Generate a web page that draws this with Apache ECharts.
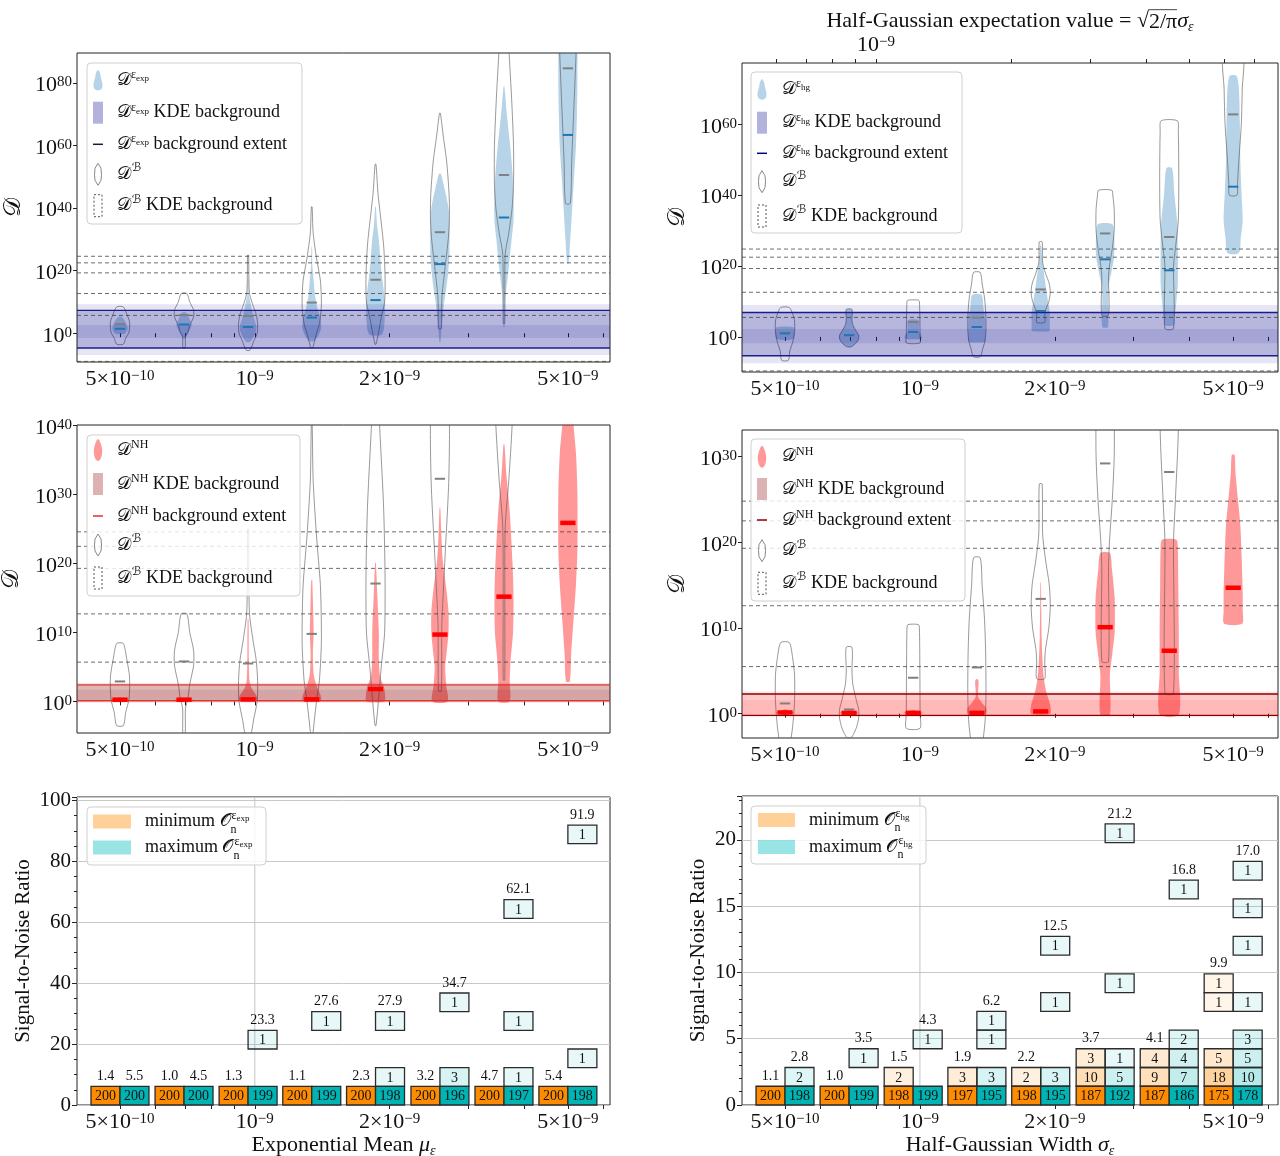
<!DOCTYPE html>
<html>
<head>
<meta charset="utf-8">
<script src="https://cdn.jsdelivr.net/npm/echarts@6.0.0/dist/echarts.min.js"></script>
<style>
html,body{margin:0;padding:0;background:#fff;}
#chart{width:1280px;height:1156px;}
</style>
</head>
<body>
<div id="chart"></div>
<script>
// ================= DATA =================
// x positions (exponential mean mu / half-gaussian width sigma)
const xVals = [5.00e-10, 6.95e-10, 9.66e-10, 1.34e-9, 1.86e-9, 2.59e-9, 3.60e-9, 5.00e-9];
const xLabelVals = [5e-10, 1e-9, 2e-9, 5e-9];
const xLabelMant = ['5×10', '10', '2×10', '5×10'];
const xLabelExp = ['−10', '−9', '−9', '−9'];
const xTickVals = [5e-10, 6e-10, 7e-10, 8e-10, 9e-10, 1e-9, 2e-9, 3e-9, 4e-9, 5e-9, 6e-9];
const topTickVals = [6e-10, 7e-10, 8e-10, 9e-10, 1e-9, 2e-9, 3e-9, 4e-9, 5e-9, 6e-9, 7e-9];
const topLabelVals = [1e-9];
// y tick exponents (log10 D)
const yExpTicks = [0, 20, 40, 60, 80];
const yHgTicks = [0, 20, 40, 60];
const yNHLTicks = [0, 10, 20, 30, 40];
const yNHRTicks = [0, 10, 20, 30];

// violin profiles: [log10 D, relative half width]
const profBLeft = [
  [[8.4,0.35],[6.2,0.7],[3.6,1.0],[0.4,0.95],[-1.6,0.6],[-3.5,0.35]],
  [[12.7,0.3],[10,0.6],[7.4,1.0],[5.2,1.0],[2.5,0.6],[0.4,0.4],[-1,0.15],[-4.7,0.12]],
  [[25,0.05],[18,0.08],[12.7,0.15],[9,0.5],[6,0.85],[3,1.0],[0,0.95],[-2.5,0.6],[-5.4,0.2]],
  [[40.4,0.04],[32,0.15],[24,0.5],[17,0.9],[12,1.0],[8,1.0],[3,0.8],[0,0.5],[-3,0.25],[-4.7,0.1]],
  [[54,0.05],[45,0.25],[38,0.5],[28,0.85],[18,1.0],[10,0.95],[5,0.6],[0,0.3],[-3.5,0.05]],
  [[70.3,0.05],[63,0.35],[55,0.7],[45,0.95],[38,1.0],[31,0.9],[20,0.5],[11,0.2],[1.5,0.15]],
  [[96,0.45],[89,0.55],[75,0.8],[60,1.0],[48,1.0],[40,0.85],[32,0.5],[25,0.12],[3.1,0.08]],
  [[96,0.9],[89,0.85],[70,0.6],[55,0.4],[41.5,0.25]]
];
const medBLeft = [2.9, 5.8, 5.5, 9.8, 17.1, 32.3, 50.6, 84.7];

const profExp = [
  [[5.2,0.2],[3.5,0.6],[1.5,0.8],[0,0.55],[-0.3,0.2]],
  [[6.6,0.2],[5,0.5],[2.8,0.8],[1,0.6],[-1.7,0.1]],
  [[17.5,0.03],[12,0.08],[10.6,0.2],[6,0.5],[2.5,0.85],[1,0.85],[-1,0.6],[-2.8,0.2]],
  [[27.6,0.03],[22,0.06],[19,0.15],[12,0.35],[8,0.6],[5,0.9],[2,1.0],[0,0.8],[-2.5,0.3]],
  [[40.4,0.04],[35,0.15],[29.8,0.35],[24,0.5],[19,0.65],[14,0.85],[9,1.0],[4,0.95],[1,0.85],[-0.6,0.6]],
  [[51,0.1],[46,0.5],[40,0.9],[35,1.0],[25,1.0],[19,0.85],[14,0.65],[10,0.45],[5,0.25],[0,0.12],[-2.8,0.06]],
  [[78.8,0.05],[70,0.3],[60,0.65],[51,0.9],[45,1.0],[36,1.0],[30,0.8],[24,0.6],[18,0.4],[13,0.2],[7,0.08],[2,0.05]],
  [[96,1.0],[89,1.0],[80,1.0],[70,0.95],[60,0.85],[50,0.65],[40,0.45],[30,0.25],[22.3,0.08]]
];
const medExp = [1.4, 2.8, 2.0, 5.0, 10.6, 22.1, 37.0, 63.4];

const profNHLeft = [
  [[0.6,0.05],[0.4,0.4],[0.25,1.0],[0.1,0.4],[-0.05,0.05]],
  [[0.55,0.05],[0.4,0.45],[0.25,1.0],[0.1,0.45],[-0.05,0.05]],
  [[11.9,0.05],[6,0.08],[3,0.15],[2,0.35],[1,0.8],[0.4,1.0],[0.05,0.9]],
  [[17.6,0.05],[13,0.15],[10,0.2],[7,0.12],[4,0.2],[2.5,0.45],[1,0.9],[0.3,1.0],[0,0.9]],
  [[20.1,0.04],[15,0.2],[10,0.35],[6,0.35],[3.5,0.5],[2,0.9],[1,1.0],[0,0.95]],
  [[28.1,0.04],[24,0.15],[20.4,0.3],[16,0.7],[13,0.9],[10,0.9],[7,0.7],[5,0.55],[2.5,0.65],[0,0.8]],
  [[37.3,0.05],[33,0.25],[27.6,0.6],[20,0.9],[15,1.0],[10,0.95],[6,0.7],[3,0.6],[0,0.6]],
  [[45,0.4],[40,0.6],[36,0.85],[30,1.0],[22,1.0],[17,0.85],[12,0.6],[7,0.35],[2.9,0.2]]
];
const medNHLeft = [0.25, 0.25, 0.3, 0.3, 1.8, 9.7, 15.2, 25.9];

const profBRight = [
  [[8.3,0.45],[6.5,0.8],[4.5,1.0],[1.5,1.0],[-1.5,0.8],[-4,0.5],[-6.6,0.35]],
  [[7.75,0.3],[5,0.3],[3.5,0.38],[1.6,0.75],[0.5,1.0],[-0.5,1.0],[-1.5,0.8],[-2.3,0.5],[-2.8,0.2]],
  [[10.4,0.55],[10.0,0.65],[5,0.7],[0,0.72],[-1.7,0.72]],
  [[18.2,0.35],[15,0.55],[11,0.8],[7,0.92],[2,0.95],[-1,0.85],[-3.5,0.6],[-5.6,0.35]],
  [[26.8,0.15],[21,0.2],[18,0.5],[15,0.9],[12.5,1.0],[10,0.85],[7.5,0.5],[6,0.42],[4.1,0.42]],
  [[41.4,0.7],[40,0.8],[36,0.95],[30,0.95],[25,0.75],[20,0.45],[17,0.35],[6.1,0.35]],
  [[61,0.85],[58,0.95],[45,1.0],[33,0.95],[25,0.65],[20,0.45],[2.4,0.45]],
  [[80,1.0],[70,0.95],[60,0.85],[50,0.6],[43,0.45],[40,0.4]]
];
const medBRight = [1.2, 0.5, 4.2, 5.4, 13.4, 29.2, 28.2, 62.8];

const profHg = [
  [[2.9,0.5],[2.6,0.95],[-0.4,0.95],[-0.8,0.5]],
  [[7.75,0.3],[5,0.3],[3.5,0.38],[1.6,0.75],[0.5,1.0],[-0.5,1.0],[-1.5,0.8],[-2.3,0.5],[-2.8,0.2]],
  [[4.7,0.55],[1.5,0.6],[0.5,0.85],[-0.5,0.85]],
  [[11.8,0.5],[8,0.7],[5,0.85],[2,0.9],[0,0.9],[-1.4,0.85]],
  [[25.9,0.05],[22,0.15],[18.8,0.3],[14,0.55],[9.4,0.8],[7,0.95],[3,0.95],[1.7,0.9]],
  [[31.8,0.75],[28,0.95],[23,0.95],[18.8,0.7],[14.1,0.35],[10,0.3],[2.8,0.3]],
  [[47.6,0.3],[40,0.55],[32,0.85],[25,0.9],[15,0.9],[10,0.75],[5,0.55],[3.3,0.5]],
  [[73.7,0.35],[70,0.6],[60,0.7],[50,0.75],[42,0.85],[33,1.0],[28,0.8],[23.7,0.6]]
];
const medHg = [1.0, 0.5, 1.4, 2.8, 7.3, 21.9, 18.8, 42.4];

const profNHRight = [
  [[0.5,0.1],[0.3,0.5],[0.15,1.0],[0,0.5],[-0.15,0.1]],
  [[0.45,0.1],[0.25,0.5],[0.1,1.0],[-0.05,0.5],[-0.2,0.1]],
  [[0.45,0.1],[0.25,0.5],[0.1,1.0],[-0.05,0.5],[-0.2,0.1]],
  [[4.05,0.05],[3.8,0.18],[3,0.15],[2,0.12],[1.3,0.5],[0.6,1.0],[0,0.95]],
  [[15.3,0.03],[12,0.06],[9,0.1],[6,0.2],[4,0.35],[2.5,0.6],[1,1.0],[0,1.0]],
  [[18.75,0.5],[17,0.7],[13.5,1.0],[9.5,1.0],[7,0.75],[4.5,0.5],[-0.1,0.5]],
  [[20.3,0.75],[19.5,0.9],[15,0.95],[10,1.0],[5,1.0],[-0.1,1.0]],
  [[30.2,0.15],[28,0.25],[25,0.5],[22,0.75],[18,0.9],[14,1.0],[12,1.0],[10.5,0.95]]
];
const medNHRight = [0.15, 0.1, 0.1, 0.1, 0.27, 10.1, 7.35, 14.7];

// KDE background bands [lo, hi] (outer, extent, inner) in log10 D
const bandExp = [[-7.0, 9.3], [-4.7, 7.3], [-1.5, 2.6]];
const bandHg = [[-7.4, 9.0], [-5.3, 6.9], [-1.8, 2.2]];
const bandNHLeft = [[-0.2, 2.7], [0.1, 2.4], [0.25, 1.7]];
const bandNHRight = [[-0.4, 2.6], [-0.2, 2.3], [-0.1, 1.6]];
// D^B KDE background (dashed lines)
const dashExp = [24.6, 22.5, 19.3, 12.7, 5.7, -9.0];
const dashHg = [24.8, 22.5, 19.3, 12.6, 5.5, -9.6];

// Signal-to-noise boxes: [bin index, count]
const binsExpMin = [[[0,200]],[[0,200]],[[0,200]],[[0,200]],[[0,200]],[[0,200]],[[0,200]],[[0,200]]];
const binsExpMax = [[[0,200]],[[0,200]],[[0,199],[3,1]],[[0,199],[4,1]],[[0,198],[1,1],[4,1]],
  [[0,196],[1,3],[5,1]],[[0,197],[1,1],[4,1],[10,1]],[[0,198],[2,1],[14,1]]];
const topExpMin = [1.4, 1.0, 1.3, 1.1, 2.3, 3.2, 4.7, 5.4];
const topExpMax = [5.5, 4.5, 23.3, 27.6, 27.9, 34.7, 62.1, 91.9];
const binsHgMin = [[[0,200]],[[0,200]],[[0,198],[1,2]],[[0,197],[1,3]],[[0,198],[1,2]],
  [[0,187],[1,10],[2,3]],[[0,187],[1,9],[2,4]],[[0,175],[1,18],[2,5],[5,1],[6,1]]];
const binsHgMax = [[[0,198],[1,2]],[[0,199],[2,1]],[[0,199],[3,1]],[[0,195],[1,3],[3,1],[4,1]],
  [[0,195],[1,3],[5,1],[8,1]],[[0,192],[1,5],[2,1],[6,1],[14,1]],[[0,186],[1,7],[2,4],[3,2],[11,1]],
  [[0,178],[1,10],[2,5],[3,3],[5,1],[8,1],[10,1],[12,1]]];
const topHgMin = [1.1, 1.0, 1.5, 1.9, 2.2, 3.7, 4.1, 9.9];
const topHgMax = [2.8, 3.5, 4.3, 6.2, 12.5, 21.2, 16.8, 17.0];
const NBINS = 15;

// ================= STYLE / HELPERS =================
const SERIF = "'Liberation Serif','DejaVu Serif',serif";
const MATH = "'DejaVu Sans','DejaVu Serif','Noto Sans',sans-serif";
const INK = '#111';
const XMIN = -9.397, XMAX_L = -8.207, XMAX_R = -8.201;
const HW = 0.0213, MED_HALF = 0.0115, MED_HALF_NH = 0.017, BOX_W = 0.0647;
const hgFactor = Math.sqrt(2 / Math.PI);
const lx = v => Math.log10(v);

const tickRich = {
  m: {fontFamily: SERIF, fontSize: 22, color: INK, lineHeight: 16, padding: [5, 0, 0, 0]},
  e: {fontFamily: SERIF, fontSize: 15, color: INK, lineHeight: 14, verticalAlign: 'top'}
};
function fmtX(v) {
  const i = xLabelVals.findIndex(t => Math.abs(lx(t) - v) < 1e-6);
  return i < 0 ? '' : '{m|' + xLabelMant[i] + '}{e|' + xLabelExp[i] + '}';
}
const ovCanvas = document.createElement('canvas');
ovCanvas.width = 20; ovCanvas.height = 24;
(function(){const c = ovCanvas.getContext('2d'); c.fillStyle = '#111'; c.fillRect(0, 0, 20, 1.2);})();

const legRich = {
  t: {fontFamily: SERIF, fontSize: 18, color: INK, lineHeight: 24},
  D: {fontFamily: MATH, fontSize: 18, color: INK, lineHeight: 24},
  sp: {fontFamily: SERIF, fontSize: 12, color: INK, lineHeight: 12, verticalAlign: 'top', padding: [1, 0, 0, 0]},
  ss: {fontFamily: SERIF, fontSize: 9, color: INK, lineHeight: 9, verticalAlign: 'top', padding: [6, 0, 0, 0]},
  sB: {fontFamily: MATH, fontSize: 12, color: INK, lineHeight: 12, verticalAlign: 'top', padding: [0, 0, 0, 1]}
};
const legRich2 = {
  t: {fontFamily: SERIF, fontSize: 18, color: INK, lineHeight: 28},
  O: {fontFamily: MATH, fontSize: 18, color: INK, lineHeight: 28},
  nz: {fontFamily: SERIF, fontSize: 12, color: INK, lineHeight: 12, verticalAlign: 'bottom', width: 0},
  sp: {fontFamily: SERIF, fontSize: 12, color: INK, lineHeight: 12, verticalAlign: 'top', padding: [2, 0, 0, 1]},
  ss: {fontFamily: SERIF, fontSize: 9, color: INK, lineHeight: 9, verticalAlign: 'top', padding: [7, 0, 0, 0]}
};

function bodies(g, profiles, fill, stroke) {
  return {
    type: 'custom', xAxisIndex: g, yAxisIndex: g, clip: true, silent: true,
    data: xVals.map((v, i) => [lx(v), i]),
    renderItem: function (params, api) {
      const xc = api.value(0), prof = profiles[api.value(1)];
      const pts = [];
      for (let k = 0; k < prof.length; k++) pts.push(api.coord([xc + prof[k][1] * HW, prof[k][0]]));
      for (let k = prof.length - 1; k >= 0; k--) pts.push(api.coord([xc - prof[k][1] * HW, prof[k][0]]));
      return {type: 'polygon', shape: {points: pts, smooth: 0.25},
        style: {fill: fill, stroke: stroke, lineWidth: 1}};
    }
  };
}
function band(g, layers, rgb, alphas) {
  return {
    type: 'custom', xAxisIndex: g, yAxisIndex: g, clip: true, silent: true,
    data: layers.map((b, k) => [b[0], b[1], k]),
    renderItem: function (params, api) {
      const cs = params.coordSys, x0 = lx(xVals[0]);
      const lo = api.coord([x0, api.value(0)]), hi = api.coord([x0, api.value(1)]);
      return {type: 'rect', shape: {x: cs.x, y: hi[1], width: cs.width, height: lo[1] - hi[1]},
        style: {fill: 'rgba(' + rgb + ',' + alphas[api.value(2)] + ')'}};
    }
  };
}
function hlines(g, vals, stroke, lw, dash) {
  return {
    type: 'custom', xAxisIndex: g, yAxisIndex: g, clip: true, silent: true,
    data: vals.map(v => [v]),
    renderItem: function (params, api) {
      const cs = params.coordSys, p = api.coord([lx(xVals[0]), api.value(0)]);
      return {type: 'line', shape: {x1: cs.x, y1: p[1], x2: cs.x + cs.width, y2: p[1]},
        style: {stroke: stroke, lineWidth: lw, lineDash: dash}};
    }
  };
}
function medians(g, meds, stroke, lw, half) {
  return {
    type: 'custom', xAxisIndex: g, yAxisIndex: g, clip: true, silent: true,
    data: xVals.map((v, i) => [lx(v), meds[i]]),
    renderItem: function (params, api) {
      const xc = api.value(0), m = api.value(1);
      const a = api.coord([xc - half, m]), b = api.coord([xc + half, m]);
      return {type: 'line', shape: {x1: a[0], y1: a[1], x2: b[0], y2: b[1]},
        style: {stroke: stroke, lineWidth: lw}};
    }
  };
}
function vline(g, v) {
  return {
    type: 'custom', xAxisIndex: g, yAxisIndex: g, silent: true,
    data: [[lx(v)]],
    renderItem: function (params, api) {
      const cs = params.coordSys, p = api.coord([api.value(0), 0]);
      return {type: 'line', shape: {x1: p[0], y1: cs.y, x2: p[0], y2: cs.y + cs.height},
        style: {stroke: '#c4c4c4', lineWidth: 1}};
    }
  };
}
function boxes(g, minBins, maxBins, minTop, maxTop) {
  const binW = Math.max.apply(null, minTop.concat(maxTop)) / NBINS;
  const data = [];
  xVals.forEach((v, i) => {
    [[minBins[i], minTop[i]], [maxBins[i], maxTop[i]]].forEach((pair, col) => {
      const topBin = Math.max.apply(null, pair[0].map(b => b[0]));
      pair[0].forEach(b => data.push([lx(v), col, b[0], b[1], b[0] === topBin ? pair[1] : -1]));
    });
  });
  return {
    type: 'custom', xAxisIndex: g, yAxisIndex: g, silent: true, data: data,
    renderItem: function (params, api) {
      const xc = api.value(0), col = api.value(1), bin = api.value(2), cnt = api.value(3), top = api.value(4);
      const xa = col === 0 ? xc - BOX_W : xc, xb = col === 0 ? xc : xc + BOX_W;
      const p0 = api.coord([xa, (bin + 1) * binW]), p1 = api.coord([xb, bin * binW]);
      const rgb = col === 0 ? '255,140,0' : '0,180,180';
      const a = Math.min(1, 0.09 * Math.sqrt(cnt));
      const cx = (p0[0] + p1[0]) / 2, cy = (p0[1] + p1[1]) / 2;
      const ch = [
        {type: 'rect', shape: {x: p0[0], y: p0[1], width: p1[0] - p0[0], height: p1[1] - p0[1]},
          style: {fill: 'rgba(' + rgb + ',' + a + ')', stroke: '#2b2b2b', lineWidth: 1.3}},
        {type: 'text', style: {text: String(cnt), x: cx, y: cy + 1, align: 'center', verticalAlign: 'middle',
          fontFamily: SERIF, fontSize: 14, fill: INK}}
      ];
      if (top >= 0) ch.push({type: 'text', style: {text: top.toFixed(1), x: cx, y: p0[1] - 10,
        align: 'center', verticalAlign: 'middle', fontFamily: SERIF, fontSize: 14, fill: INK}});
      return {type: 'group', children: ch};
    }
  };
}

function xAxisDef(g, max, extra) {
  return Object.assign({
    gridIndex: g, type: 'value', min: XMIN, max: max, nameMoveOverlap: false,
    axisLine: {show: false}, splitLine: {show: false},
    axisTick: {show: true, customValues: xTickVals.map(lx), length: 4, lineStyle: {color: '#222', width: 1}},
    axisLabel: {show: true, customValues: xLabelVals.map(lx), formatter: fmtX, rich: tickRich, margin: 7, color: INK}
  }, extra || {});
}
function yAxisViolin(g, min, max, ticks, gap) {
  return {
    gridIndex: g, type: 'value', min: min, max: max, nameMoveOverlap: false,
    axisLine: {show: false}, splitLine: {show: false},
    axisTick: {show: true, customValues: ticks, length: 4, lineStyle: {color: '#222', width: 1}},
    axisLabel: {show: true, customValues: ticks, formatter: v => '{m|10}{e|' + v + '}', rich: tickRich, margin: 5, color: INK},
    name: '{D|𝒟}', nameLocation: 'middle', nameGap: gap,
    nameTextStyle: {rich: {D: {fontFamily: MATH, fontSize: 24, color: INK}}}
  };
}
function yAxisSNR(g, max, interval, minorSplit, gap) {
  return {
    gridIndex: g, type: 'value', min: 0, max: max, interval: interval, nameMoveOverlap: false,
    axisLine: {show: false},
    splitLine: {show: true, lineStyle: {color: '#c8c8c8', width: 1}},
    axisTick: {show: true, length: 5, lineStyle: {color: '#222'}},
    minorTick: {show: true, splitNumber: minorSplit, length: 3, lineStyle: {color: '#222'}},
    axisLabel: {fontFamily: SERIF, fontSize: 21, color: INK, margin: 6, showMaxLabel: false},
    name: 'Signal-to-Noise Ratio', nameLocation: 'middle', nameGap: gap,
    nameTextStyle: {fontFamily: SERIF, fontSize: 21, color: INK}
  };
}
const xNameRich = {
  t: {fontFamily: SERIF, fontSize: 22, color: INK, lineHeight: 26},
  mi: {fontFamily: SERIF, fontSize: 22, fontStyle: 'italic', color: INK, lineHeight: 26},
  sb: {fontFamily: SERIF, fontSize: 14, fontStyle: 'italic', color: INK, lineHeight: 14, verticalAlign: 'bottom'},
  ov: {fontFamily: SERIF, fontSize: 22, color: INK, lineHeight: 22, padding: [3, 0, 0, 0], backgroundColor: {image: ovCanvas}}
};

// ---------- legends (graphic) ----------
function icon(kind, cx, cy, color) {
  const Z = 101;
  if (kind === 'vfill') return {type: 'polygon', z: Z, shape: {smooth: 0.4, points:
    [[cx, cy - 10], [cx + 2, cy - 7], [cx + 3, cy - 2], [cx + 4.5, cy + 4], [cx + 4, cy + 8], [cx + 2, cy + 10],
     [cx - 2, cy + 10], [cx - 4, cy + 8], [cx - 4.5, cy + 4], [cx - 3, cy - 2], [cx - 2, cy - 7]]}, style: {fill: color}};
  if (kind === 'drop') return {type: 'polygon', z: Z, shape: {smooth: 0.4, points:
    [[cx, cy - 11], [cx + 2.5, cy - 7], [cx + 4, cy - 1], [cx + 4, cy + 4], [cx + 2.5, cy + 9], [cx, cy + 11],
     [cx - 2.5, cy + 9], [cx - 4, cy + 4], [cx - 4, cy - 1], [cx - 2.5, cy - 7]]}, style: {fill: color}};
  if (kind === 'rect') return {type: 'rect', z: Z, shape: {x: cx - 5, y: cy - 11, width: 10, height: 22}, style: {fill: color}};
  if (kind === 'line') return {type: 'line', z: Z, shape: {x1: cx - 5, y1: cy, x2: cx + 5, y2: cy}, style: {stroke: color, lineWidth: 1.5}};
  if (kind === 'vout') return {type: 'polygon', z: Z, shape: {points:
    [[cx, cy - 11], [cx + 3, cy - 6], [cx + 3.5, cy], [cx + 3, cy + 6], [cx, cy + 11], [cx - 3, cy + 6], [cx - 3.5, cy], [cx - 3, cy - 6]]},
    style: {fill: 'none', stroke: color, lineWidth: 1}};
  return {type: 'rect', z: Z, shape: {x: cx - 4, y: cy - 11, width: 8, height: 22},
    style: {fill: 'none', stroke: color, lineWidth: 1, lineDash: [2, 2]}};
}
function legend(box, ix, tx, ys, items, rich) {
  const ch = [{type: 'rect', z: 100, shape: {x: box[0], y: box[1], width: box[2] - box[0], height: box[3] - box[1], r: 4},
    style: {fill: 'rgba(255,255,255,0.82)', stroke: '#cfcfcf', lineWidth: 1}}];
  items.forEach((it, k) => {
    if (it.icon === 'patch') ch.push({type: 'rect', z: 101, shape: {x: ix[0], y: ys[k] - 7, width: ix[1] - ix[0], height: 14}, style: {fill: it.color}});
    else ch.push(icon(it.icon, ix, ys[k], it.color));
    ch.push({type: 'text', z: 101, style: {text: it.text, rich: rich, x: tx, y: ys[k], align: 'left', verticalAlign: 'middle',
      fontFamily: SERIF, fontSize: 18, fill: INK}});
  });
  return {type: 'group', children: ch};
}
function violinLegendItems(sup, fillIcon, fillColor, rectColor, lineColor) {
  return [
    {icon: fillIcon, color: fillColor, text: '{D|𝒟}' + sup},
    {icon: 'rect', color: rectColor, text: '{D|𝒟}' + sup + '{t| KDE background}'},
    {icon: 'line', color: lineColor, text: '{D|𝒟}' + sup + '{t| background extent}'},
    {icon: 'vout', color: '#888', text: '{D|𝒟}{sB|ℬ}'},
    {icon: 'dash', color: '#555', text: '{D|𝒟}{sB|ℬ}{t| KDE background}'}
  ];
}

const FILL_BLUE = 'rgba(31,119,180,0.32)';
const FILL_RED = 'rgba(255,0,0,0.4)';
const OUTLINE = 'rgba(90,90,90,0.62)';
const DASH = 'rgba(60,60,60,0.75)';

// ================= OPTION =================
const option = {
  animation: false,
  backgroundColor: '#fff',
  textStyle: {fontFamily: SERIF},
  grid: [
    {left: 77, top: 53, width: 533, height: 309},
    {left: 742, top: 63, width: 536, height: 309},
    {left: 77, top: 425, width: 533, height: 308},
    {left: 742, top: 430, width: 536, height: 308},
    {left: 77, top: 797, width: 533, height: 308},
    {left: 742, top: 796, width: 536, height: 309}
  ].map(g => Object.assign(g, {show: true, borderColor: '#222', borderWidth: 1, backgroundColor: 'transparent',
    containLabel: false, outerBoundsMode: 'none'})),
  xAxis: [
    xAxisDef(0, XMAX_L),
    xAxisDef(1, XMAX_R),
    xAxisDef(2, XMAX_L),
    xAxisDef(3, XMAX_R),
    xAxisDef(4, XMAX_L, {name: '{t|Exponential Mean }{mi|μ}{sb|ε}', nameLocation: 'middle', nameGap: 27,
      nameTextStyle: {rich: xNameRich}}),
    xAxisDef(5, XMAX_R, {name: '{t|Half-Gaussian Width }{mi|σ}{sb|ε}', nameLocation: 'middle', nameGap: 27,
      nameTextStyle: {rich: xNameRich}}),
    {
      gridIndex: 1, type: 'value', position: 'top', min: XMIN, max: XMAX_R, nameMoveOverlap: false,
      axisLine: {show: false}, splitLine: {show: false},
      axisTick: {show: true, customValues: topTickVals.map(v => lx(v * hgFactor)), length: 4, lineStyle: {color: '#222'}},
      axisLabel: {show: true, customValues: topLabelVals.map(v => lx(v * hgFactor)), formatter: () => '{m|10}{e|−9}',
        rich: tickRich, margin: 12, color: INK},
      name: '{t|Half-Gaussian expectation value = √}{ov|2/π}{mi|σ}{sb|ε}', nameLocation: 'middle', nameGap: 29,
      nameTextStyle: {rich: xNameRich}
    }
  ],
  yAxis: [
    yAxisViolin(0, -9.2, 89.6, yExpTicks, 51),
    yAxisViolin(1, -9.9, 77.3, yHgTicks, 52),
    yAxisViolin(2, -4.58, 40.1, yNHLTicks, 53),
    yAxisViolin(3, -2.83, 33.1, yNHRTicks, 52),
    yAxisSNR(4, 101.1, 20, 4, 43),
    yAxisSNR(5, 23.3, 5, 5, 33)
  ],
  series: [
    // top-left: exponential
    bodies(0, profExp, FILL_BLUE, null),
    bodies(0, profBLeft, 'none', OUTLINE),
    band(0, bandExp, '0,0,139', [0.1, 0.2, 0.1]),
    hlines(0, dashExp, DASH, 1, [4, 3]),
    hlines(0, bandExp[1], '#1c1c8a', 1.4, null),
    medians(0, medBLeft, '#808080', 2, MED_HALF),
    medians(0, medExp, '#1f77b4', 2, MED_HALF),
    // top-right: half-gaussian
    bodies(1, profHg, FILL_BLUE, null),
    bodies(1, profBRight, 'none', OUTLINE),
    band(1, bandHg, '0,0,139', [0.1, 0.2, 0.1]),
    hlines(1, dashHg, DASH, 1, [4, 3]),
    hlines(1, bandHg[1], '#1c1c8a', 1.4, null),
    medians(1, medBRight, '#808080', 2, MED_HALF),
    medians(1, medHg, '#1f77b4', 2, MED_HALF),
    // middle-left: NH (exp)
    bodies(2, profNHLeft, FILL_RED, null),
    bodies(2, profBLeft, 'none', OUTLINE),
    band(2, bandNHLeft, '139,0,0', [0.1, 0.2, 0.1]),
    hlines(2, dashExp, DASH, 1, [4, 3]),
    hlines(2, bandNHLeft[1], '#e3302e', 1.3, null),
    medians(2, medBLeft, '#808080', 2, MED_HALF),
    medians(2, medNHLeft, '#ff0000', 4.5, MED_HALF_NH),
    // middle-right: NH (hg)
    bodies(3, profNHRight, FILL_RED, null),
    bodies(3, profBRight, 'none', OUTLINE),
    band(3, bandNHRight, '255,0,0', [0.1, 0.12, 0.08]),
    hlines(3, dashHg, DASH, 1, [4, 3]),
    hlines(3, bandNHRight[1], '#8b0000', 1.3, null),
    medians(3, medBRight, '#808080', 2, MED_HALF),
    medians(3, medNHRight, '#ff0000', 4.5, MED_HALF_NH),
    // bottom: SNR boxes
    vline(4, 1e-9),
    boxes(4, binsExpMin, binsExpMax, topExpMin, topExpMax),
    vline(5, 1e-9),
    boxes(5, binsHgMin, binsHgMax, topHgMin, topHgMax)
  ],
  graphic: [
    legend([87, 63, 302, 224], 98, 117, [80, 112.7, 144.3, 174.3, 205.7],
      violinLegendItems('{sp|ε}{ss|exp}', 'vfill', FILL_BLUE, 'rgba(0,0,139,0.3)', '#1a1a40'), legRich),
    legend([751, 72, 962, 233], 762, 782, [89.3, 122.7, 153.3, 181.7, 216],
      violinLegendItems('{sp|ε}{ss|hg}', 'vfill', FILL_BLUE, 'rgba(0,0,139,0.3)', '#00008b'), legRich),
    legend([87, 435, 300, 596], 98, 117, [450, 484, 516, 545, 578],
      violinLegendItems('{sp|NH}', 'drop', FILL_RED, 'rgba(139,0,0,0.3)', '#e3302e'), legRich),
    legend([751, 439, 965, 601], 762, 782, [456.7, 489, 520, 550.7, 583.3],
      violinLegendItems('{sp|NH}', 'drop', FILL_RED, 'rgba(139,0,0,0.3)', '#8b0000'), legRich),
    legend([87, 807, 266, 865], [93, 131], 145, [821.5, 847.5], [
      {icon: 'patch', color: 'rgba(255,140,0,0.4)', text: '{t|minimum }{O|𝒪}{nz|n}{sp|ε}{ss|exp}'},
      {icon: 'patch', color: 'rgba(0,190,190,0.4)', text: '{t|maximum }{O|𝒪}{nz|n}{sp|ε}{ss|exp}'}
    ], legRich2),
    legend([751, 806, 926, 864], [758, 795], 809, [820, 847], [
      {icon: 'patch', color: 'rgba(255,140,0,0.4)', text: '{t|minimum }{O|𝒪}{nz|n}{sp|ε}{ss|hg}'},
      {icon: 'patch', color: 'rgba(0,190,190,0.4)', text: '{t|maximum }{O|𝒪}{nz|n}{sp|ε}{ss|hg}'}
    ], legRich2)
  ]
};

const chart = echarts.init(document.getElementById('chart'), null, {renderer: 'canvas'});
chart.setOption(option);
</script>
</body>
</html>
